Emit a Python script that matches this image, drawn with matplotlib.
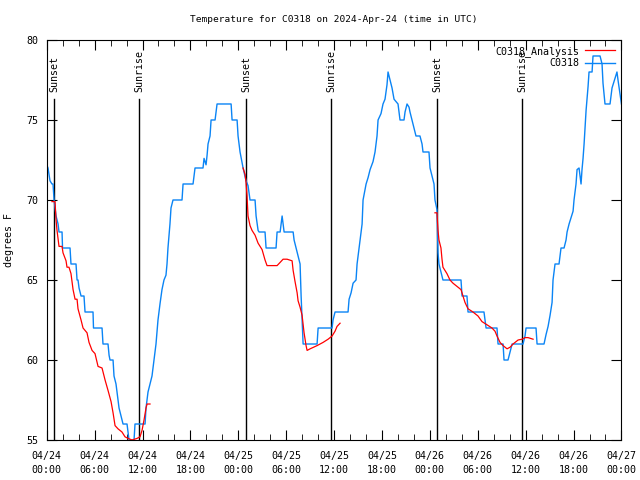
import numpy as np
import pandas as pd
import matplotlib
matplotlib.use("Agg")
import matplotlib.pyplot as plt
import matplotlib.dates as mdates

start = pd.Timestamp("2024-04-24 00:00")

# station C0318 observations (hours since start, deg F)
obs_hours = [0.00, 0.16, 0.41, 0.66, 0.79, 0.92, 1.04, 1.17, 1.42, 1.54, 1.92, 1.98,
             2.92, 3.04, 3.67, 3.80, 3.92, 4.05, 4.30, 4.67, 4.80, 5.80, 5.86, 6.93,
             7.05, 7.68, 7.81, 7.93, 8.31, 8.43, 8.68, 8.81, 8.93, 9.06, 9.31, 9.56,
             10.06, 10.19, 10.31, 10.94, 11.06, 12.32, 12.44, 12.69, 12.94, 13.19, 13.44,
             13.69, 13.94, 14.19, 14.44, 14.69, 14.94, 15.07, 15.19, 15.44, 15.57, 15.82,
             16.95, 17.08, 18.33, 18.58, 19.58, 19.71, 19.96, 20.09, 20.21, 20.46, 20.59,
             21.09, 21.34, 23.10, 23.22, 23.85, 23.97, 24.22, 24.60, 24.97, 25.22, 25.47,
             26.10, 26.23, 26.48, 26.60, 27.35, 27.48, 28.73, 28.86, 29.24, 29.36, 29.49,
             29.61, 29.74, 30.87, 30.99, 31.24, 31.49, 31.74, 31.87, 31.99, 32.12, 33.87,
             34.00, 35.75, 35.87, 36.12, 37.75, 37.88, 38.13, 38.38, 38.75, 38.88, 39.13,
             39.38, 39.51, 39.63, 40.01, 40.26, 40.51, 40.88, 41.13, 41.38, 41.51, 41.88,
             42.13, 42.38, 42.63, 42.76, 43.01, 43.26, 43.51, 44.01, 44.26, 44.76, 44.89,
             45.14, 45.39, 45.51, 45.76, 46.01, 46.26, 46.76, 47.02, 47.14, 47.89, 48.02,
             48.27, 48.52, 48.64, 48.89, 49.02, 49.14, 49.39, 49.64, 51.90, 52.03, 52.65,
             52.78, 54.78, 55.04, 56.41, 56.54, 57.17, 57.29, 57.79, 58.05, 58.30, 59.67,
             59.92, 60.05, 61.30, 61.43, 62.30, 62.56, 62.81, 63.06, 63.31, 63.43, 63.68,
             64.18, 64.43, 64.81, 65.06, 65.19, 65.44, 65.69, 65.94, 66.06, 66.31, 66.44,
             66.69, 66.94, 67.06, 67.19, 67.32, 67.57, 67.82, 67.94, 68.32, 68.44, 69.32,
             69.57, 69.69, 69.94, 70.57, 70.82, 71.19, 71.44, 71.57, 72.00]
obs_temp = [72.2, 72, 71.2, 71, 71, 70, 69.5, 69, 68.5, 68, 68, 67,
            67, 66, 66, 65, 65, 64.5, 64, 64, 63, 63, 62, 62,
            61, 61, 60.3, 60, 60, 59, 58.5, 58, 57.5, 57, 56.5, 56,
            56, 55.5, 55, 55, 56, 56, 57, 58, 58.5, 59, 60,
            61, 62.5, 63.5, 64.4, 65, 65.3, 66, 67, 68.5, 69.5, 70,
            70, 71, 71, 72, 72, 72.6, 72.2, 72.8, 73.5, 74, 75,
            75, 76, 76, 75, 75, 74, 73, 72, 71.2, 70.9, 70,
            70, 69, 68.1, 68, 68, 67, 67, 68, 68, 68.5, 69,
            68.5, 68, 68, 67.5, 67, 66.5, 66, 64, 62.5, 61, 61,
            62, 62, 62.5, 63, 63, 63.8, 64.2, 64.8, 65, 66, 67,
            68, 68.5, 70, 71, 71.4, 71.9, 72.4, 73, 74, 75, 75.4,
            76, 76.3, 77.2, 78, 77.5, 77, 76.3, 76, 75, 75, 75.5,
            76, 75.8, 75.5, 75, 74.5, 74, 74, 73.5, 73, 73, 72,
            71.5, 71, 70, 69.4, 66.7, 66, 65.5, 65, 65, 64, 64,
            63, 63, 62, 62, 61, 61, 60, 60, 60.5, 61, 61,
            61.5, 62, 62, 61, 61, 61.6, 62.1, 62.8, 63.6, 65, 66,
            66, 67, 67, 67.5, 68, 68.5, 68.9, 69.3, 70, 71, 71.9,
            72, 71, 71.9, 72.6, 73.5, 75.6, 77.1, 78, 78, 79, 79,
            78.5, 77.3, 76, 76, 77, 77.6, 78, 77.5, 76]

# analysis runs (three separate nightly segments)
ana1_hours = [0.66, 1.04, 1.17, 1.29, 1.54, 1.92, 2.04, 2.42, 2.54, 2.79, 3.04, 3.30,
              3.55, 3.80, 3.92, 4.30, 4.55, 5.05, 5.30, 5.68, 6.05, 6.43, 6.93, 7.31,
              7.68, 8.06, 8.31, 8.56, 8.93, 9.43, 9.81, 10.19, 10.69, 11.31, 11.69, 11.94,
              12.19, 12.44, 12.57, 12.94]
ana1_temp = [69.9, 69.9, 68.75, 68.1, 67.1, 67.1, 66.7, 66.2, 65.8, 65.8, 65.4, 64.4,
             63.8, 63.8, 63.2, 62.5, 62, 61.7, 61.1, 60.6, 60.4, 59.6, 59.5, 58.75,
             58.1, 57.4, 56.7, 55.9, 55.7, 55.5, 55.2, 55.1, 55, 55.1, 55.2, 55.6,
             56.25, 57, 57.25, 57.25]
ana2_hours = [24.60, 24.85, 24.97, 25.10, 25.22, 25.47, 25.72, 26.10, 26.48, 26.98, 27.35,
              27.60, 28.86, 29.24, 29.61, 30.11, 30.74, 30.87, 31.11, 31.37, 31.49, 31.74,
              31.99, 32.24, 32.49, 32.62, 33.00, 33.87, 34.62, 35.25, 35.75, 36.12, 36.37,
              36.75]
ana2_temp = [72.0, 71.6, 71.1, 70.2, 69, 68.4, 68.1, 67.8, 67.3, 66.9, 66.25,
             65.9, 65.9, 66.1, 66.3, 66.3, 66.2, 65.6, 64.9, 64.2, 63.7, 63.3,
             62.8, 61.7, 60.9, 60.6, 60.7, 60.9, 61.1, 61.3, 61.5, 61.8, 62.1,
             62.3]
ana3_hours = [48.64, 48.89, 48.96, 49.02, 49.14, 49.39, 49.52, 49.64, 50.14, 50.52, 50.90,
              51.40, 51.90, 52.15, 52.40, 52.78, 53.40, 54.03, 54.53, 55.16, 55.78, 56.16,
              56.41, 56.79, 57.17, 57.67, 58.05, 58.42, 59.05, 59.55, 59.92, 60.30, 60.93]
ana3_temp = [69.2, 69.2, 68.6, 68.1, 67.5, 67, 66.3, 65.8, 65.4, 65, 64.8,
             64.6, 64.4, 64, 63.6, 63.2, 63, 62.75, 62.4, 62.2, 62, 61.8,
             61.5, 61.1, 60.9, 60.7, 60.8, 61, 61.25, 61.3, 61.4, 61.4, 61.3]

sun_hours = [0.95, 11.62, 25.0, 35.67, 48.95, 59.6]
sun_labels = ["Sunset", "Sunrise", "Sunset", "Sunrise", "Sunset", "Sunrise"]


def to_time(hours):
    return start + pd.to_timedelta(np.array(hours), unit="h")


plt.rcParams["font.family"] = "DejaVu Sans Mono"
fs = 7.2

fig = plt.figure(figsize=(6.4, 4.8), dpi=100)
ax = fig.add_axes([0.073, 0.0833, 0.898, 0.8334])

blue = "#0a84f5"
red = "#ff0000"

for i, (h, t) in enumerate([(ana1_hours, ana1_temp), (ana2_hours, ana2_temp),
                            (ana3_hours, ana3_temp)]):
    ax.plot(to_time(h), t, color=red, lw=0.9,
            label="C0318_Analysis" if i == 0 else None, zorder=3)
ax.plot(to_time(obs_hours), obs_temp, color=blue, lw=1.0, label="C0318", zorder=2)

for h, lab in zip(sun_hours, sun_labels):
    tt = to_time([h])[0]
    ax.plot([tt, tt], [55, 76.3], color="black", lw=1.0, zorder=1)
    ax.text(tt, 76.75, lab, rotation=90, ha="center", va="bottom", fontsize=fs)

ax.set_xlim(start, start + pd.Timedelta(hours=72))
ax.set_ylim(55, 80)
ax.set_yticks([55, 60, 65, 70, 75, 80])
ax.xaxis.set_major_locator(mdates.HourLocator(byhour=[0, 6, 12, 18]))
ax.xaxis.set_minor_locator(mdates.HourLocator(byhour=range(0, 24, 2)))
ax.xaxis.set_major_formatter(mdates.DateFormatter("%m/%d\n%H:%M"))
ax.tick_params(which="both", direction="in", top=True, right=True, labelsize=fs)
ax.tick_params(which="major", length=7)
ax.tick_params(which="minor", length=4)
ax.tick_params(axis="x", pad=8)
ax.tick_params(axis="y", pad=6)
for lbl in ax.get_xticklabels():
    lbl.set_linespacing(1.5)

ax.set_ylabel("degrees F", fontsize=fs, labelpad=9)
ax.set_title("Temperature for C0318 on 2024-Apr-24 (time in UTC)", fontsize=6.8, pad=13)

ax.legend(loc="upper right", frameon=False, markerfirst=False, fontsize=fs,
          handlelength=3.0, borderaxespad=0.2, labelspacing=0.15, handletextpad=0.6)

plt.savefig("out.png", dpi=100)
